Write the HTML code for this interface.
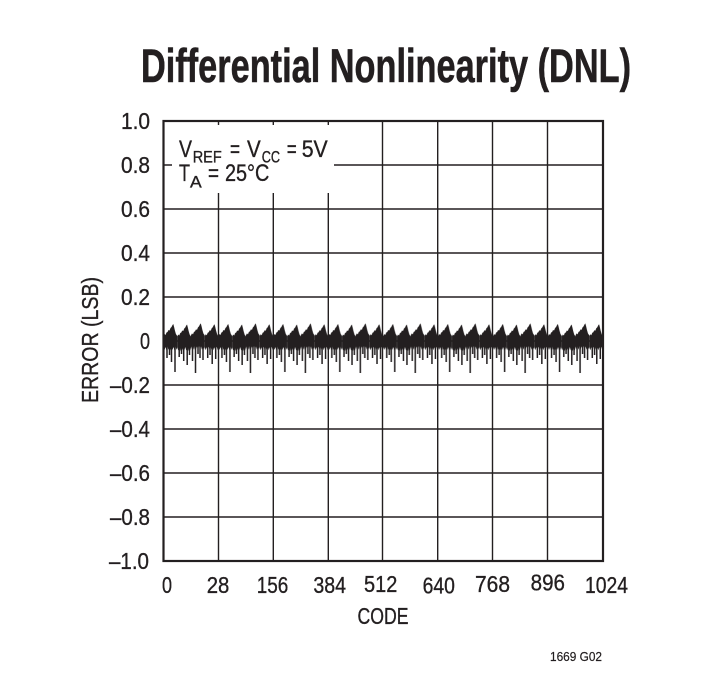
<!DOCTYPE html>
<html>
<head>
<meta charset="utf-8">
<style>
html,body{margin:0;padding:0;background:#fff;}
svg{display:block;}
text{font-family:"Liberation Sans",Arial,sans-serif;fill:#231f20;stroke:#231f20;stroke-width:0.35;font-variant-ligatures:none;font-feature-settings:"liga" 0;}
</style>
</head>
<body>
<svg width="717" height="680" viewBox="0 0 717 680" xmlns="http://www.w3.org/2000/svg">
<defs>
  <polygon id="per" points="0,336 1,334 2,335 3,332.5 4,332 5,330 6,330.5 7,328 8,327 9,325 9.8,324 10.6,327 11.4,330.5 12.4,334 13.73,336 13.73,347 13,350 12,346.5 11,350.5 10,347 9,350 8,346.5 7,350.5 6,347 5,350 4,346.5 3,350.5 2,347 1,350 0,347" fill="#231f20"/>
  <pattern id="dnl" patternUnits="userSpaceOnUse" x="163.5" y="0" width="54.94" height="680">
    <use href="#per" transform="translate(0,0)"/>
    <use href="#per" transform="translate(13.735,0.5)"/>
    <use href="#per" transform="translate(27.47,-0.6)"/>
    <use href="#per" transform="translate(41.205,0.3)"/>
    <g stroke="#231f20" stroke-width="1.5">
      <line x1="3.5" y1="346" x2="3.5" y2="358"/>
      <line x1="6" y1="346" x2="6" y2="355"/>
      <line x1="8" y1="346" x2="8" y2="362"/>
      <line x1="11.5" y1="346" x2="11.5" y2="372"/>
      <line x1="15.7" y1="346" x2="15.7" y2="357"/>
      <line x1="18" y1="346" x2="18" y2="354"/>
      <line x1="20.2" y1="346" x2="20.2" y2="361"/>
      <line x1="23.7" y1="346" x2="23.7" y2="365"/>
      <line x1="26" y1="346" x2="26" y2="355"/>
      <line x1="29" y1="346" x2="29" y2="361"/>
      <line x1="32" y1="346" x2="32" y2="373"/>
      <line x1="34.5" y1="346" x2="34.5" y2="354"/>
      <line x1="36.5" y1="346" x2="36.5" y2="358"/>
      <line x1="39.5" y1="346" x2="39.5" y2="360"/>
      <line x1="44.2" y1="346" x2="44.2" y2="358"/>
      <line x1="46.5" y1="346" x2="46.5" y2="355"/>
      <line x1="48.7" y1="346" x2="48.7" y2="364"/>
      <line x1="52.2" y1="346" x2="52.2" y2="359"/>
    </g>
  </pattern>
</defs>

<rect x="0" y="0" width="717" height="680" fill="#fff"/>

<!-- Title -->
<text x="141" y="82" font-size="47" font-weight="bold" textLength="490" lengthAdjust="spacingAndGlyphs" style="stroke-width:0.6">Differential Nonlinearity (DNL)</text>

<!-- grid -->
<g stroke="#231f20" stroke-width="1.4" fill="none">
  <line x1="163.5" y1="165" x2="603" y2="165"/>
  <line x1="163.5" y1="209" x2="603" y2="209"/>
  <line x1="163.5" y1="253" x2="603" y2="253"/>
  <line x1="163.5" y1="297" x2="603" y2="297"/>
  <line x1="163.5" y1="341" x2="603" y2="341"/>
  <line x1="163.5" y1="385" x2="603" y2="385"/>
  <line x1="163.5" y1="429" x2="603" y2="429"/>
  <line x1="163.5" y1="473" x2="603" y2="473"/>
  <line x1="163.5" y1="517" x2="603" y2="517"/>
  <line x1="218.5" y1="121" x2="218.5" y2="561"/>
  <line x1="273.3" y1="121" x2="273.3" y2="561"/>
  <line x1="328.3" y1="121" x2="328.3" y2="561"/>
  <line x1="382.5" y1="121" x2="382.5" y2="561"/>
  <line x1="437.7" y1="121" x2="437.7" y2="561"/>
  <line x1="492.5" y1="121" x2="492.5" y2="561"/>
  <line x1="547.5" y1="121" x2="547.5" y2="561"/>
</g>

<!-- legend box (masks grid) -->
<rect x="172" y="125" width="162" height="68" fill="#fff"/>

<!-- data -->
<rect x="164.5" y="318" width="437.5" height="58" fill="url(#dnl)"/>

<!-- frame -->
<rect x="163.5" y="121" width="439.5" height="440" fill="none" stroke="#231f20" stroke-width="2.2"/>

<!-- legend text -->
<text x="179" y="157" font-size="24" textLength="13" lengthAdjust="spacingAndGlyphs">V</text>
<text x="192.7" y="162.3" font-size="17" textLength="29" lengthAdjust="spacingAndGlyphs">REF</text>
<text x="230" y="157" font-size="24" textLength="10" lengthAdjust="spacingAndGlyphs">=</text>
<text x="247" y="157" font-size="24" textLength="13.7" lengthAdjust="spacingAndGlyphs">V</text>
<text x="261.7" y="162.3" font-size="17" textLength="18.3" lengthAdjust="spacingAndGlyphs">CC</text>
<text x="286.7" y="157" font-size="24" textLength="10" lengthAdjust="spacingAndGlyphs">=</text>
<text x="301.7" y="157" font-size="24" textLength="26" lengthAdjust="spacingAndGlyphs">5V</text>

<text x="179" y="181" font-size="24" textLength="11" lengthAdjust="spacingAndGlyphs">T</text>
<text x="190" y="187.3" font-size="17" textLength="11.7" lengthAdjust="spacingAndGlyphs">A</text>
<text x="208" y="181" font-size="24" textLength="11" lengthAdjust="spacingAndGlyphs">=</text>
<text x="225" y="181" font-size="24" textLength="44.3" lengthAdjust="spacingAndGlyphs">25°C</text>

<!-- y tick labels -->
<g font-size="23.5" text-anchor="end">
  <text x="150" y="129" textLength="29" lengthAdjust="spacingAndGlyphs">1.0</text>
  <text x="150" y="173" textLength="29" lengthAdjust="spacingAndGlyphs">0.8</text>
  <text x="150" y="217" textLength="29" lengthAdjust="spacingAndGlyphs">0.6</text>
  <text x="150" y="261" textLength="29" lengthAdjust="spacingAndGlyphs">0.4</text>
  <text x="150" y="305" textLength="29" lengthAdjust="spacingAndGlyphs">0.2</text>
  <text x="150" y="349" textLength="10" lengthAdjust="spacingAndGlyphs">0</text>
  <text x="150" y="393" textLength="40" lengthAdjust="spacingAndGlyphs">–0.2</text>
  <text x="150" y="437" textLength="40" lengthAdjust="spacingAndGlyphs">–0.4</text>
  <text x="150" y="481" textLength="40" lengthAdjust="spacingAndGlyphs">–0.6</text>
  <text x="150" y="525" textLength="40" lengthAdjust="spacingAndGlyphs">–0.8</text>
  <text x="149" y="569" textLength="40" lengthAdjust="spacingAndGlyphs">–1.0</text>
</g>

<!-- x tick labels -->
<g font-size="23.5" text-anchor="middle">
  <text x="167" y="593" textLength="10" lengthAdjust="spacingAndGlyphs">0</text>
  <text x="218" y="593" textLength="22.6" lengthAdjust="spacingAndGlyphs">28</text>
  <text x="272.5" y="593" textLength="31.6" lengthAdjust="spacingAndGlyphs">156</text>
  <text x="329.7" y="593" textLength="32.7" lengthAdjust="spacingAndGlyphs">384</text>
  <text x="380.7" y="592" textLength="33.3" lengthAdjust="spacingAndGlyphs">512</text>
  <text x="438.8" y="593.5" textLength="32.3" lengthAdjust="spacingAndGlyphs">640</text>
  <text x="492.5" y="592" textLength="35" lengthAdjust="spacingAndGlyphs">768</text>
  <text x="547.8" y="590.5" textLength="34.3" lengthAdjust="spacingAndGlyphs">896</text>
  <text x="606.5" y="593" textLength="43" lengthAdjust="spacingAndGlyphs">1024</text>
</g>

<!-- axis titles -->
<text x="383" y="624" font-size="23.5" text-anchor="middle" textLength="51" lengthAdjust="spacingAndGlyphs">CODE</text>
<text transform="translate(98,340) rotate(-90)" x="0" y="0" font-size="23.5" text-anchor="middle" textLength="126" lengthAdjust="spacingAndGlyphs">ERROR (LSB)</text>

<!-- figure id -->
<text x="550" y="661" font-size="13" textLength="52" lengthAdjust="spacingAndGlyphs" style="stroke-width:0.2">1669 G02</text>
</svg>
</body>
</html>
